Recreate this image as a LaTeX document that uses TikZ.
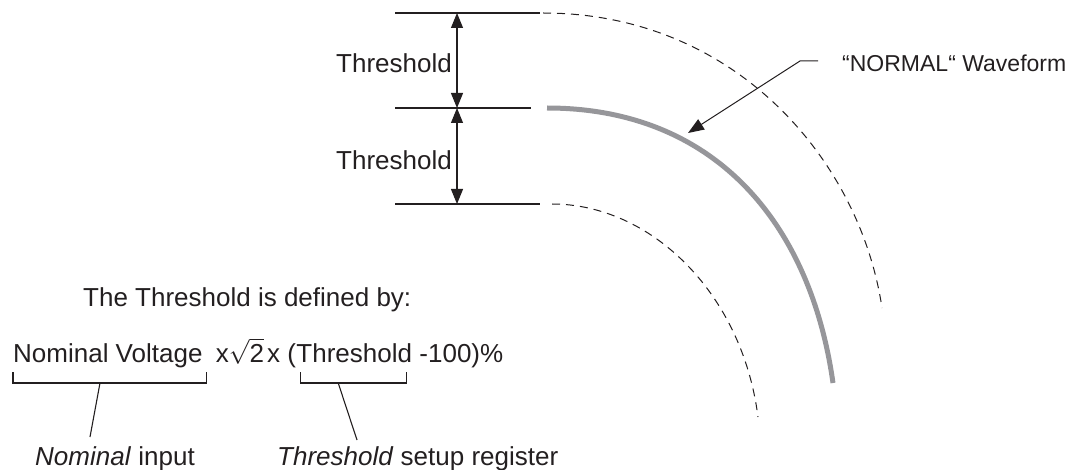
\documentclass[tikz,border=0pt]{standalone}
\usepackage{fontspec}
\setmainfont{Liberation Sans}
\usepackage{amsmath}
\usetikzlibrary{arrows.meta, positioning, calc}

\definecolor{inkc}{RGB}{35,31,32}
\definecolor{wavegray}{RGB}{150,150,154}

\begin{document}
\begin{tikzpicture}[x=1pt, y=-1pt,
    txt/.style={font=\fontsize{26}{30}\selectfont, text=inkc, inner sep=0pt},
    lbl/.style={font=\fontsize{23}{27}\selectfont, text=inkc, inner sep=0pt},
    thin line/.style={draw=inkc, line width=1.1pt},
    dimarrow/.style={draw=inkc, line width=1.1pt, {Triangle[length=15pt,width=12pt]}-{Triangle[length=15pt,width=12pt]}},
    thresh/.style={draw=inkc, line width=1pt, dash pattern=on 8pt off 6pt},
    wave/.style={draw=wavegray, line width=5pt}]
    \useasboundingbox (0,0) rectangle (1081,470);

    % Threshold levels
    \foreach \y/\xend in {13/540, 108/531, 204/540} {
        \draw[thin line] (395,\y) -- (\xend,\y);
    }
    \coordinate (lvlA) at (457,13);
    \coordinate (lvlB) at (457,108);
    \coordinate (lvlC) at (457,204);
    \draw[dimarrow] (lvlA) -- (lvlB);
    \draw[dimarrow] (lvlB) -- (lvlC);
    \node[txt, anchor=base east] (thrA) at (452,73) {Threshold};
    \node[txt, anchor=base east] (thrB) at (452,170) {Threshold};

    % Waveform and threshold curves
    \draw[thresh] (543,13) .. controls (735,13) and (860,160) .. (882,308);
    \draw[wave] (547,108) .. controls (712,108) and (810,220) .. (833,383);
    \draw[thresh] (552,204) .. controls (650,204) and (742,292) .. (758,417);

    % Waveform label
    \node[lbl, anchor=base west] (normal) at (842,72) {“NORMAL“ Waveform};
    \coordinate (lead) at ($(normal.base west)+(-24,-11)$);
    \coordinate (elbow) at (800,61);
    \coordinate (wavetip) at (688,133);
    \draw[inkc, line width=1pt, -{Triangle[length=16pt,width=12pt]}] (lead) -- (elbow) -- (wavetip);

    % Definition of the threshold
    \node[txt, anchor=base west] (defby) at (83,306) {The Threshold is defined by:};
    \node[txt, anchor=base west] (nomv) at (13,362) {Nominal Voltage};
    \node[txt, anchor=base west] (sqr) at ([xshift=13pt]nomv.base east) {x$\sqrt{\mbox{2}}$\hspace{3pt}x (};
    \node[txt, anchor=base west] (thrv) at (sqr.base east) {Threshold};
    \node[txt, anchor=base west] (rest) at ([xshift=7pt]thrv.base east) {-100)\%};

    % Brackets and their leaders
    \draw[thin line] ($(nomv.base west)+(0,10)$) -- ++(0,11) -- ($(nomv.base east)+(4,21)$) -- ++(0,-11);
    \draw[thin line] ($(thrv.base west)+(4,10)$) -- ++(0,11) -- ($(thrv.base east)+(-6,21)$) -- ++(0,-11);
    \node[txt, anchor=base west] (nomin) at (35,465) {\textit{Nominal} input};
    \node[txt, anchor=base west] (thrreg) at (277,465) {\textit{Threshold} setup register};
    \coordinate (nomtick) at ($(nomv.base west)+(87,21)$);
    \coordinate (thrtick) at ($(thrv.base west)+(42,21)$);
    \draw[thin line] (nomtick) -- ($(nomin.base west)+(55,-28)$);
    \draw[thin line] (thrtick) -- ($(thrreg.base west)+(80,-25)$);
\end{tikzpicture}
\end{document}
